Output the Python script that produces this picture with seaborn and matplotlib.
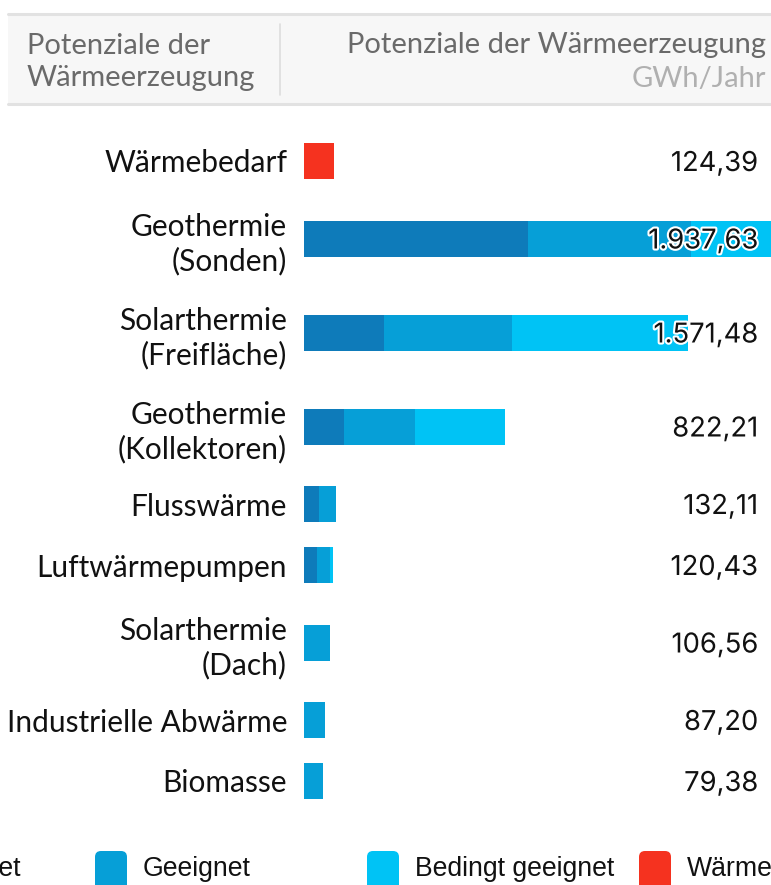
import numpy as np
import pandas as pd
import matplotlib
matplotlib.use("Agg")
import matplotlib.pyplot as plt
import seaborn as sns
from matplotlib import transforms, patheffects
from matplotlib.patches import FancyBboxPatch, Rectangle
from matplotlib.lines import Line2D

# ---------------- data ----------------
categories = ["Wärmebedarf", "Geothermie\n(Sonden)", "Solarthermie\n(Freifläche)",
              "Geothermie\n(Kollektoren)", "Flusswärme", "Luftwärmepumpen",
              "Solarthermie\n(Dach)", "Industrielle Abwärme", "Biomasse"]
sehr_geeignet = [0, 918, 328, 164, 61, 53, 0, 0, 0]
geeignet = [0, 664, 524, 291, 71.11, 54, 106.56, 87.20, 79.38]
bedingt_geeignet = [0, 355.63, 719.48, 367.21, 0, 13.43, 0, 0, 0]
waermebedarf = [124.39, 0, 0, 0, 0, 0, 0, 0, 0]
totals = [124.39, 1937.63, 1571.48, 822.21, 132.11, 120.43, 106.56, 87.20, 79.38]
legend_labels = ["Sehr geeignet", "Geeignet", "Bedingt geeignet", "Wärmebedarf"]

header_left = "Potenziale der\nWärmeerzeugung"
header_right = "Potenziale der Wärmeerzeugung"
header_unit = "GWh/Jahr"

# ---------------- style ----------------
C_DARK, C_MED, C_LIGHT, C_RED = "#0e7bba", "#069fd7", "#00c3f5", "#f5321f"
W, H = 771, 885
sns.set_theme(style="white")
plt.rcParams["font.family"] = ["Lato", "DejaVu Sans"]

fig = plt.figure(figsize=(W / 100, H / 100), dpi=100)

# background axes in pixel coordinates (header + legend)
bg = fig.add_axes([0, 0, 1, 1])
bg.set_xlim(0, W)
bg.set_ylim(H, 0)
bg.axis("off")

bg.add_patch(Rectangle((8, 14), W - 8, 90, facecolor="#f7f7f7", edgecolor="none"))
bg.add_line(Line2D([8, W], [14, 14], color="#e2e2e2", lw=2.2))
bg.add_line(Line2D([8, W], [104, 104], color="#e2e2e2", lw=2.2))
bg.add_line(Line2D([280, 280], [24, 95], color="#dddddd", lw=1.2))
bg.text(27, 62, header_left, ha="left", va="center", fontsize=21, color="#6a6a6a",
        linespacing=1.32)
bg.text(766, 45, header_right, ha="right", va="center", fontsize=21, color="#6a6a6a")
bg.text(766, 79, header_unit, ha="right", va="center", fontsize=21, color="#b0b0b0")

# legend (fixed-width items, partly cut off like the reference)
leg_colors = [C_DARK, C_MED, C_LIGHT, C_RED]
step = 272
for i, (lab, col) in enumerate(zip(legend_labels, leg_colors)):
    hx = 95 + (i - 1) * step - (16 if i == 0 else 0)
    bg.add_patch(FancyBboxPatch((hx + 4, 855), 24, 34, boxstyle="round,pad=4,rounding_size=6",
                                facecolor=col, edgecolor="none"))
    bg.text(hx + 48, 869, lab, ha="left", va="center", fontsize=19.2, color="#111111",
            family=["Liberation Sans", "DejaVu Sans"])

# ---------------- bars ----------------
ROW_PAD, LINE_H, FIRST_TOP = 28, 33, 130.5
n_lines = np.array([c.count("\n") + 1 for c in categories])
heights = ROW_PAD + LINE_H * n_lines
centers = FIRST_TOP + np.cumsum(heights) - heights / 2

df = pd.DataFrame({
    "pos": centers,
    "cat": categories,
    "l1": np.array(sehr_geeignet),
    "l2": np.array(sehr_geeignet) + np.array(geeignet),
    "l3": np.array(sehr_geeignet) + np.array(geeignet) + np.array(bedingt_geeignet),
    "red": np.array(waermebedarf),
    "total": totals,
})

x0 = 304
ax = fig.add_axes([x0 / W, 0, 1 - x0 / W, 1])
ax.patch.set_alpha(0)
BAR_PX = 36
width = BAR_PX / np.diff(np.sort(centers)).min()
for col, color in [("l3", C_LIGHT), ("l2", C_MED), ("l1", C_DARK), ("red", C_RED)]:
    sns.barplot(data=df, x=col, y="pos", orient="h", native_scale=True, color=color,
                saturation=1, width=width, errorbar=None, linewidth=0, ax=ax)

ax.set_xlim(0, 1911)
ax.set_ylim(H, 0)
ax.set_yticks(df["pos"], df["cat"])
ax.set_xticks([])
ax.tick_params(axis="y", length=0, pad=12.2, labelsize=21.5, labelcolor="#111111")
for lbl in ax.get_yticklabels():
    lbl.set_linespacing(1.25)
ax.set_xlabel("")
ax.set_ylabel("")
for s in ax.spines.values():
    s.set_visible(False)

blend = transforms.blended_transform_factory(fig.transFigure, ax.transData)
shift = transforms.ScaledTranslation(0, -3 / 100, fig.dpi_scale_trans)
for p, t in zip(df["pos"], df["total"]):
    txt = f"{t:,.2f}".replace(",", "X").replace(".", ",").replace("X", ".")
    ax.text(758 / W, p, txt, transform=blend + shift, ha="right", va="center", fontsize=19.7,
            color="#111111", family=["Inter", "DejaVu Sans"], clip_on=False,
            path_effects=[patheffects.withStroke(linewidth=3, foreground="white")])

fig.savefig("out.png", dpi=100)
